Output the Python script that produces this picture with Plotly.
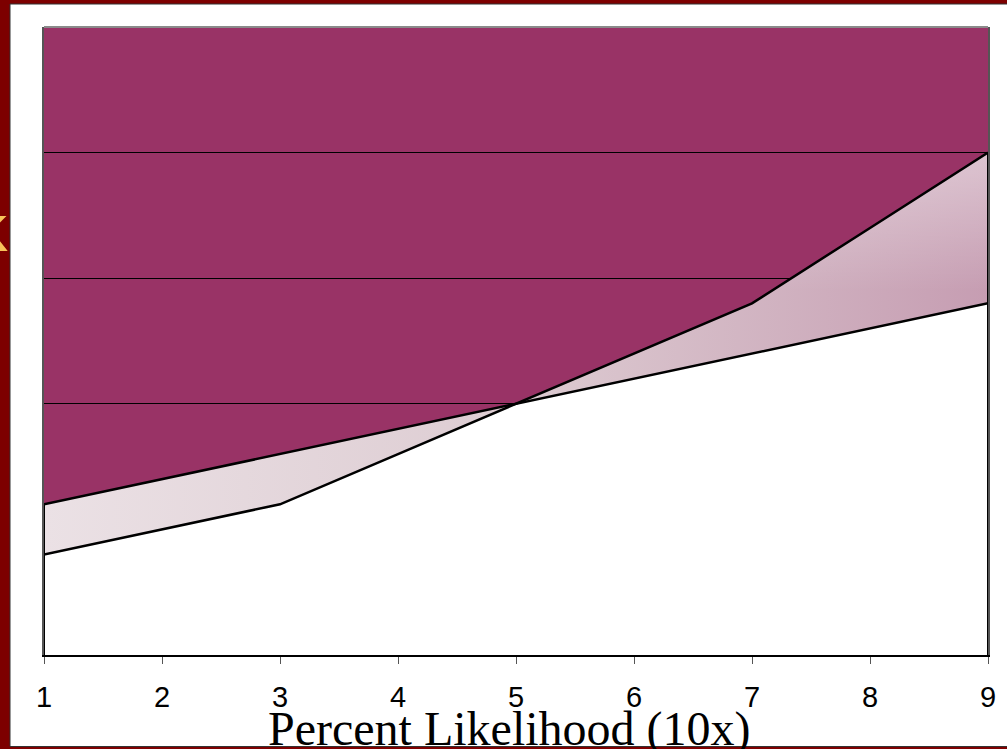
import numpy as np
import plotly.graph_objects as go

# ---- data ----
x_vals = [1, 2, 3, 4, 5, 6, 7, 8, 9]
tick_labels = ["1", "2", "3", "4", "5", "6", "7", "8", "9"]
series_a = [1.2, 1.4, 1.6, 1.8, 2.0, 2.2, 2.4, 2.6, 2.8]
series_b = [0.8, 1.0, 1.2, 1.6, 2.0, 2.4, 2.8, 3.4, 4.0]
grid_vals = [1, 2, 3, 4]
y_range = [0, 5]
x_title = "Percent Likelihood (10x)"
cross_idx = 4  # index where the two series meet

lower = np.minimum(series_a, series_b)
upper = np.maximum(series_a, series_b)

W, H = 1007, 749
L, R, T, B = 44, 19, 27, 94
pw, ph = W - L - R, H - T - B


def px_x(p):
    return (p - L) / pw


def px_y(p):
    return (H - B - p) / ph


fig = go.Figure()

# white region under both lines
fig.add_trace(go.Scatter(x=x_vals, y=lower, mode="lines", line=dict(width=0, color="white"),
                         fill="tozeroy", fillcolor="white", hoverinfo="skip", showlegend=False))
# gradient band between the two lines
fig.add_trace(go.Scatter(x=x_vals, y=upper, mode="lines", line=dict(width=0, color="rgba(0,0,0,0)"),
                         fill="tonexty",
                         fillgradient=dict(type="horizontal", start=x_vals[0], stop=x_vals[-1],
                                           colorscale=[[0, "#ebe1e5"], [0.5, "#ddccd2"], [1, "#c69db2"]]),
                         hoverinfo="skip", showlegend=False))
# light sheen on the top of the right-hand band
fig.add_trace(go.Scatter(x=x_vals[cross_idx:], y=lower[cross_idx:], mode="lines",
                         line=dict(width=0, color="rgba(0,0,0,0)"), hoverinfo="skip", showlegend=False))
fig.add_trace(go.Scatter(x=x_vals[cross_idx:], y=upper[cross_idx:], mode="lines",
                         line=dict(width=0, color="rgba(0,0,0,0)"), fill="tonexty",
                         fillgradient=dict(type="vertical", start=2.9, stop=4.0,
                                           colorscale=[[0, "rgba(255,255,255,0)"],
                                                       [1, "rgba(255,255,255,0.4)"]]),
                         hoverinfo="skip", showlegend=False))
# series lines
for s in (series_a, series_b):
    fig.add_trace(go.Scatter(x=x_vals, y=s, mode="lines", line=dict(color="black", width=2.5),
                             hoverinfo="skip", showlegend=False))
# vertical outline edges of the area
fig.add_trace(go.Scatter(x=[x_vals[0], x_vals[0]], y=[0, upper[0]], mode="lines",
                         line=dict(color="black", width=2), hoverinfo="skip", showlegend=False))
fig.add_trace(go.Scatter(x=[x_vals[-1], x_vals[-1]], y=[0, upper[-1]], mode="lines",
                         line=dict(color="black", width=2), hoverinfo="skip", showlegend=False))

shapes = [
    # white chart box on the dark slide
    dict(type="rect", xref="paper", yref="paper", x0=px_x(10), x1=px_x(1015), y0=px_y(746.5), y1=px_y(4),
         fillcolor="white", line=dict(color="#333333", width=1), layer="below"),
    # purple plot area
    dict(type="rect", xref="x", yref="y", x0=x_vals[0], x1=x_vals[-1], y0=y_range[0], y1=y_range[1],
         fillcolor="#993366", line=dict(width=0), layer="below"),
    # grey top border
    dict(type="line", xref="paper", yref="paper", x0=0, x1=1, y0=1, y1=1,
         line=dict(color="#8a8a8a", width=2), layer="above"),
]

annotations = [
    dict(text=x_title, xref="paper", yref="paper", x=px_x(509.5), y=px_y(729),
         xanchor="center", yanchor="middle", showarrow=False,
         font=dict(family="Liberation Serif, Times New Roman, serif", size=48, color="black")),
    dict(text="<b>K</b>", xref="paper", yref="paper", x=px_x(9), y=px_y(234),
         xanchor="right", yanchor="middle", showarrow=False, borderpad=0,
         font=dict(family="Liberation Sans, Arial, sans-serif", size=50, color="#f7c35a")),
]

fig.update_layout(
    width=W, height=H,
    margin=dict(l=L, r=R, t=T, b=B, pad=0),
    paper_bgcolor="#7d0000",
    plot_bgcolor="rgba(0,0,0,0)",
    shapes=shapes,
    annotations=annotations,
    showlegend=False,
    xaxis=dict(range=[x_vals[0], x_vals[-1]], tickvals=x_vals, ticktext=tick_labels,
               showgrid=False, zeroline=False, showline=True, linecolor="black", linewidth=2,
               ticks="outside", ticklen=7, tickwidth=1, tickcolor="#555555", ticklabelstandoff=8,
               tickfont=dict(family="Liberation Sans, Arial, sans-serif", size=29, color="black"),
               layer="above traces"),
    yaxis=dict(range=y_range, tickvals=grid_vals, showticklabels=False, ticks="",
               showgrid=True, gridcolor="black", gridwidth=1, zeroline=False,
               showline=True, linecolor="#555555", linewidth=2, mirror=True),
)

fig.write_html("out.html")
